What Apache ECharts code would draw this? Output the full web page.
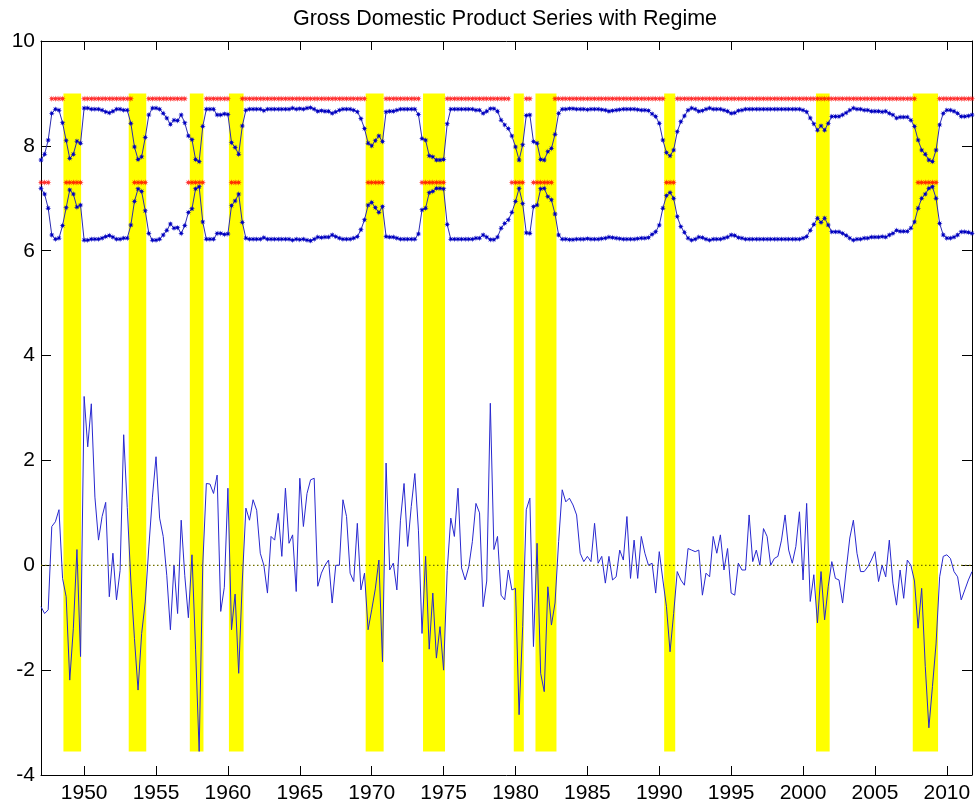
<!DOCTYPE html>
<html><head><meta charset="utf-8">
<script src="https://cdn.jsdelivr.net/npm/echarts@6/dist/echarts.min.js"></script>
<style>html,body{margin:0;padding:0;background:#fff}#c{width:976px;height:807px}</style>
</head><body><div id="c"></div>
<script>
// Quarterly observations from 1947 Q1 (x = 1947 + index/4)
const firstYear = 1947;
const lastYear = 2011.75;

const gdpGrowth = [
  -0.79, -0.92, -0.85, 0.74, 0.83, 1.06, -0.25, -0.6, -2.19, -1.2,
  0.3, -1.74, 3.22, 2.26, 3.08, 1.3, 0.48, 0.93, 1.2, -0.6,
  0.23, -0.66, -0.1, 2.49, 1.1, -0.3, -1.4, -2.38, -1.3, -0.7,
  0.35, 1.3, 2.07, 0.9, 0.55, -0.2, -1.23, 0.0, -0.92, 0.86,
  -0.2, -1.0, 0.2, -1.6, -3.55, 0.0, 1.56, 1.55, 1.37, 1.72,
  -0.88, -0.42, 1.47, -1.23, -0.55, -2.06, -0.3, 1.09, 0.86, 1.25,
  1.05, 0.23, 0.0, -0.53, 0.55, 0.48, 0.99, 0.17, 1.47, 0.42,
  0.58, -0.5, 1.66, 0.74, 1.37, 1.63, 1.66, -0.4, -0.15, 0.0,
  0.1, -0.72, 0.0, 0.0, 1.25, 0.93, -0.15, -0.31, 0.8, -0.47,
  -0.15, -1.23, -0.85, -0.45, 0.1, -1.84, 1.95, -0.09, 0.04, -0.47,
  0.86, 1.56, 0.36, 1.12, 1.75, 0.67, -1.3, 0.17, -1.6, -0.53,
  -1.77, -1.17, -2.0, -0.1, 0.9, 0.55, 1.47, -0.05, -0.28, -0.03,
  0.45, 1.18, 1.0, -0.79, -0.3, 3.09, 0.3, 0.55, -0.57, -0.66,
  -0.09, -0.47, -0.44, -2.85, -1.17, 1.06, 1.28, -1.55, 0.42, -2.06,
  -2.41, -0.41, -1.14, -0.72, 0.45, 1.44, 1.21, 1.28, 1.15, 0.96,
  0.23, 0.07, 0.17, 0.07, 0.8, 0.04, 0.17, -0.34, 0.17, -0.28,
  -0.22, 0.29, 0.1, 0.93, -0.25, 0.48, -0.25, 0.55, 0.23, 0.0,
  0.04, -0.53, 0.26, -0.28, -0.79, -1.65, -0.92, -0.12, -0.28, -0.38,
  0.32, 0.29, 0.26, 0.29, -0.57, -0.15, -0.22, 0.55, 0.23, 0.58,
  -0.09, 0.32, -0.53, -0.57, 0.04, -0.09, -0.09, 0.96, 0.07, 0.29,
  0.0, 0.7, 0.55, 0.0, 0.13, 0.17, 0.48, 0.96, 0.29, 0.04,
  0.36, 1.02, -0.28, 1.18, -0.69, -0.18, -1.1, -0.12, -1.04, -0.41,
  0.07, -0.25, -0.28, -0.72, -0.09, 0.52, 0.86, 0.23, -0.12, -0.12,
  -0.03, 0.1, 0.26, -0.31, 0.0, -0.22, 0.48, -0.34, -0.76, -0.09,
  -0.63, 0.1, 0.0, -0.3, -1.2, -0.44, -1.93, -3.1, -2.31, -1.5,
  -0.22, 0.17, 0.2, 0.13, -0.12, -0.22, -0.66, -0.47, -0.28, -0.12
];

const upperRegime = [
  7.73, 7.84, 8.11, 8.62, 8.70, 8.68, 8.44, 8.10, 7.76, 7.84,
  8.09, 8.05, 8.72, 8.72, 8.70, 8.70, 8.70, 8.68, 8.65, 8.63,
  8.66, 8.70, 8.70, 8.68, 8.68, 8.43, 7.98, 7.74, 7.79, 8.16,
  8.59, 8.72, 8.72, 8.70, 8.62, 8.53, 8.41, 8.49, 8.48, 8.59,
  8.44, 8.19, 8.12, 7.74, 7.70, 8.37, 8.70, 8.70, 8.70, 8.59,
  8.59, 8.61, 8.60, 8.06, 7.97, 7.84, 8.38, 8.68, 8.70, 8.70,
  8.70, 8.70, 8.67, 8.70, 8.70, 8.70, 8.70, 8.70, 8.70, 8.70,
  8.72, 8.70, 8.71, 8.70, 8.72, 8.73, 8.70, 8.66, 8.67, 8.66,
  8.66, 8.62, 8.65, 8.68, 8.70, 8.70, 8.70, 8.68, 8.65, 8.52,
  8.33, 8.05, 8.00, 8.10, 8.19, 8.08, 8.65, 8.66, 8.66, 8.68,
  8.70, 8.70, 8.70, 8.70, 8.70, 8.60, 8.14, 8.11, 7.81, 7.79,
  7.73, 7.73, 7.74, 8.42, 8.70, 8.70, 8.70, 8.70, 8.70, 8.70,
  8.70, 8.68, 8.68, 8.62, 8.66, 8.71, 8.71, 8.66, 8.49, 8.40,
  8.33, 8.19, 7.98, 7.73, 8.02, 8.58, 8.59, 8.08, 8.05, 7.74,
  7.73, 7.89, 7.95, 8.22, 8.62, 8.70, 8.70, 8.71, 8.71, 8.70,
  8.70, 8.70, 8.69, 8.70, 8.70, 8.70, 8.69, 8.68, 8.66, 8.67,
  8.68, 8.69, 8.70, 8.70, 8.70, 8.70, 8.69, 8.68, 8.68, 8.67,
  8.61, 8.56, 8.43, 8.11, 7.87, 7.81, 7.92, 8.27, 8.46, 8.57,
  8.68, 8.72, 8.70, 8.66, 8.67, 8.70, 8.72, 8.70, 8.70, 8.70,
  8.68, 8.66, 8.62, 8.63, 8.67, 8.68, 8.70, 8.70, 8.70, 8.70,
  8.70, 8.70, 8.70, 8.70, 8.70, 8.70, 8.70, 8.70, 8.70, 8.70,
  8.70, 8.70, 8.68, 8.65, 8.53, 8.42, 8.30, 8.38, 8.30, 8.43,
  8.56, 8.56, 8.56, 8.59, 8.63, 8.68, 8.72, 8.70, 8.70, 8.68,
  8.68, 8.66, 8.66, 8.66, 8.65, 8.66, 8.62, 8.59, 8.53, 8.55,
  8.55, 8.55, 8.49, 8.37, 8.11, 7.92, 7.84, 7.73, 7.70, 7.92,
  8.40, 8.62, 8.68, 8.68, 8.66, 8.62, 8.56, 8.56, 8.57, 8.59
];

const lowerRegime = [
  7.19, 7.08, 6.81, 6.30, 6.22, 6.24, 6.48, 6.82, 7.16, 7.08,
  6.83, 6.87, 6.20, 6.20, 6.22, 6.22, 6.22, 6.24, 6.27, 6.29,
  6.26, 6.22, 6.22, 6.24, 6.24, 6.49, 6.94, 7.18, 7.13, 6.76,
  6.33, 6.20, 6.20, 6.22, 6.30, 6.39, 6.51, 6.43, 6.44, 6.33,
  6.48, 6.73, 6.80, 7.18, 7.22, 6.55, 6.22, 6.22, 6.22, 6.33,
  6.33, 6.31, 6.32, 6.86, 6.95, 7.08, 6.54, 6.24, 6.22, 6.22,
  6.22, 6.22, 6.25, 6.22, 6.22, 6.22, 6.22, 6.22, 6.22, 6.22,
  6.20, 6.22, 6.21, 6.22, 6.20, 6.19, 6.22, 6.26, 6.25, 6.26,
  6.26, 6.30, 6.27, 6.24, 6.22, 6.22, 6.22, 6.24, 6.27, 6.40,
  6.59, 6.87, 6.92, 6.82, 6.73, 6.84, 6.27, 6.26, 6.26, 6.24,
  6.22, 6.22, 6.22, 6.22, 6.22, 6.32, 6.78, 6.81, 7.11, 7.13,
  7.19, 7.19, 7.18, 6.50, 6.22, 6.22, 6.22, 6.22, 6.22, 6.22,
  6.22, 6.24, 6.24, 6.30, 6.26, 6.21, 6.21, 6.26, 6.43, 6.52,
  6.59, 6.73, 6.94, 7.19, 6.90, 6.34, 6.33, 6.84, 6.87, 7.18,
  7.19, 7.03, 6.97, 6.70, 6.30, 6.22, 6.22, 6.21, 6.21, 6.22,
  6.22, 6.22, 6.23, 6.22, 6.22, 6.22, 6.23, 6.24, 6.26, 6.25,
  6.24, 6.23, 6.22, 6.22, 6.22, 6.22, 6.23, 6.24, 6.24, 6.25,
  6.31, 6.36, 6.49, 6.81, 7.05, 7.11, 7.00, 6.65, 6.46, 6.35,
  6.24, 6.20, 6.22, 6.26, 6.25, 6.22, 6.20, 6.22, 6.22, 6.22,
  6.24, 6.26, 6.30, 6.29, 6.25, 6.24, 6.22, 6.22, 6.22, 6.22,
  6.22, 6.22, 6.22, 6.22, 6.22, 6.22, 6.22, 6.22, 6.22, 6.22,
  6.22, 6.22, 6.24, 6.27, 6.39, 6.50, 6.62, 6.54, 6.62, 6.49,
  6.36, 6.36, 6.36, 6.33, 6.29, 6.24, 6.20, 6.22, 6.22, 6.24,
  6.24, 6.26, 6.26, 6.26, 6.27, 6.26, 6.30, 6.33, 6.39, 6.37,
  6.37, 6.37, 6.43, 6.55, 6.81, 7.00, 7.08, 7.19, 7.22, 7.00,
  6.52, 6.30, 6.24, 6.24, 6.26, 6.30, 6.36, 6.36, 6.35, 6.33
];

// Red regime markers: 8.9 = expansion row, 7.3 = recession row
const regimeMarks = [
  7.3, 7.3, 7.3, 8.9, 8.9, 8.9, 8.9, 7.3, 7.3, 7.3,
  7.3, 7.3, 8.9, 8.9, 8.9, 8.9, 8.9, 8.9, 8.9, 8.9,
  8.9, 8.9, 8.9, 8.9, 8.9, 8.9, 7.3, 7.3, 7.3, 7.3,
  8.9, 8.9, 8.9, 8.9, 8.9, 8.9, 8.9, 8.9, 8.9, 8.9,
  8.9, 7.3, 7.3, 7.3, 7.3, 7.3, 8.9, 8.9, 8.9, 8.9,
  8.9, 8.9, 8.9, 7.3, 7.3, 7.3, 8.9, 8.9, 8.9, 8.9,
  8.9, 8.9, 8.9, 8.9, 8.9, 8.9, 8.9, 8.9, 8.9, 8.9,
  8.9, 8.9, 8.9, 8.9, 8.9, 8.9, 8.9, 8.9, 8.9, 8.9,
  8.9, 8.9, 8.9, 8.9, 8.9, 8.9, 8.9, 8.9, 8.9, 8.9,
  8.9, 7.3, 7.3, 7.3, 7.3, 7.3, 8.9, 8.9, 8.9, 8.9,
  8.9, 8.9, 8.9, 8.9, 8.9, 8.9, 7.3, 7.3, 7.3, 7.3,
  7.3, 7.3, 7.3, 8.9, 8.9, 8.9, 8.9, 8.9, 8.9, 8.9,
  8.9, 8.9, 8.9, 8.9, 8.9, 8.9, 8.9, 8.9, 8.9, 8.9,
  8.9, 7.3, 7.3, 7.3, 7.3, 8.9, 8.9, 7.3, 7.3, 7.3,
  7.3, 7.3, 7.3, 8.9, 8.9, 8.9, 8.9, 8.9, 8.9, 8.9,
  8.9, 8.9, 8.9, 8.9, 8.9, 8.9, 8.9, 8.9, 8.9, 8.9,
  8.9, 8.9, 8.9, 8.9, 8.9, 8.9, 8.9, 8.9, 8.9, 8.9,
  8.9, 8.9, 8.9, 8.9, 7.3, 7.3, 7.3, 8.9, 8.9, 8.9,
  8.9, 8.9, 8.9, 8.9, 8.9, 8.9, 8.9, 8.9, 8.9, 8.9,
  8.9, 8.9, 8.9, 8.9, 8.9, 8.9, 8.9, 8.9, 8.9, 8.9,
  8.9, 8.9, 8.9, 8.9, 8.9, 8.9, 8.9, 8.9, 8.9, 8.9,
  8.9, 8.9, 8.9, 8.9, 8.9, 8.9, 8.9, 8.9, 8.9, 8.9,
  8.9, 8.9, 8.9, 8.9, 8.9, 8.9, 8.9, 8.9, 8.9, 8.9,
  8.9, 8.9, 8.9, 8.9, 8.9, 8.9, 8.9, 8.9, 8.9, 8.9,
  8.9, 8.9, 8.9, 8.9, 7.3, 7.3, 7.3, 7.3, 7.3, 7.3,
  8.9, 8.9, 8.9, 8.9, 8.9, 8.9, 8.9, 8.9, 8.9, 8.9
];

// Recession shading (yellow bands)
const bandStart = [1948.56, 1953.10, 1957.35, 1960.07, 1969.58, 1973.57, 1979.88, 1981.39, 1990.34, 2000.90, 2007.63];
const bandEnd   = [1949.79, 1954.32, 1958.30, 1961.09, 1970.83, 1975.10, 1980.58, 1982.85, 1991.11, 2001.85, 2009.39];
const bandLow = -3.55;
const bandHigh = 9;

const yearTicks = [1950, 1955, 1960, 1965, 1970, 1975, 1980, 1985, 1990, 1995, 2000, 2005, 2010];

const quarterX = gdpGrowth.map((_, i) => firstYear + i / 4);
const pairs = arr => arr.map((v, i) => [quarterX[i], v]);

const star = 'path://M5,0L1.9,0.8L3.54,3.54L0.8,1.9L0,5L-0.8,1.9L-3.54,3.54L-1.9,0.8L-5,0L-1.9,-0.8L-3.54,-3.54L-0.8,-1.9L0,-5L0.8,-1.9L3.54,-3.54L1.9,-0.8Z';
const font = "'Liberation Sans', Arial, Helvetica, sans-serif";

const xCommon = {
  type: 'value', min: firstYear, max: lastYear,
  axisLine: { show: true, onZero: false, lineStyle: { color: '#000', width: 1 } },
  axisTick: { show: true, inside: true, length: 9, lineStyle: { color: '#000', width: 1 }, customValues: yearTicks },
  splitLine: { show: false }
};
const yCommon = {
  type: 'value', min: -4, max: 10, interval: 2,
  axisLine: { show: true, onZero: false, lineStyle: { color: '#000', width: 1 } },
  axisTick: { show: true, inside: true, length: 10, lineStyle: { color: '#000', width: 1 } },
  splitLine: { show: false }
};

const chart = echarts.init(document.getElementById('c'), null, { renderer: 'canvas' });
chart.setOption({
  animation: false,
  backgroundColor: '#ffffff',
  title: {
    text: 'Gross Domestic Product Series with Regime',
    left: 505, textAlign: 'center', top: 8, padding: 0,
    textStyle: { fontSize: 21.5, fontWeight: 'normal', color: '#000', fontFamily: font }
  },
  grid: { left: 41, right: 4, top: 41, bottom: 32, containLabel: false },
  xAxis: [
    Object.assign({}, xCommon, { position: 'bottom',
      axisLabel: { show: true, customValues: yearTicks, fontSize: 21, color: '#000', fontFamily: font, margin: 8,
        formatter: v => String(Math.round(v)) } }),
    Object.assign({}, xCommon, { position: 'top', axisLabel: { show: false } })
  ],
  yAxis: [
    Object.assign({}, yCommon, { position: 'left',
      axisLabel: { show: true, fontSize: 21, color: '#000', fontFamily: font, margin: 6 } }),
    Object.assign({}, yCommon, { position: 'right', axisLabel: { show: false } })
  ],
  series: [
    {
      type: 'line', name: 'recessions', data: [], silent: true, z: 1,
      markArea: {
        silent: true,
        itemStyle: { color: '#ffff00', opacity: 1 },
        emphasis: { disabled: true },
        data: bandStart.map((s, k) => [{ xAxis: s, yAxis: bandLow }, { xAxis: bandEnd[k], yAxis: bandHigh }])
      }
    },
    {
      type: 'line', name: 'zero', data: [[firstYear, 0], [lastYear, 0]], silent: true, z: 2,
      symbol: 'none', lineStyle: { color: '#707000', width: 1.3, type: [1.5, 2.5] }
    },
    {
      type: 'line', name: 'GDP', data: pairs(gdpGrowth), silent: true, z: 3,
      symbol: 'none', lineStyle: { color: '#2828d0', width: 1 }
    },
    {
      type: 'line', name: 'upper', data: pairs(upperRegime), silent: true, z: 4,
      symbol: star, symbolSize: 6, showAllSymbol: true,
      itemStyle: { color: '#0000c0' }, lineStyle: { color: '#2b2bb0', width: 1 }
    },
    {
      type: 'line', name: 'lower', data: pairs(lowerRegime), silent: true, z: 4,
      symbol: star, symbolSize: 6, showAllSymbol: true,
      itemStyle: { color: '#0000c0' }, lineStyle: { color: '#2b2bb0', width: 1 }
    },
    {
      type: 'scatter', name: 'regime', data: pairs(regimeMarks), silent: true, z: 5,
      symbol: star, symbolSize: 6.5, itemStyle: { color: '#ff0000' }
    }
  ]
});
</script>
</body></html>
